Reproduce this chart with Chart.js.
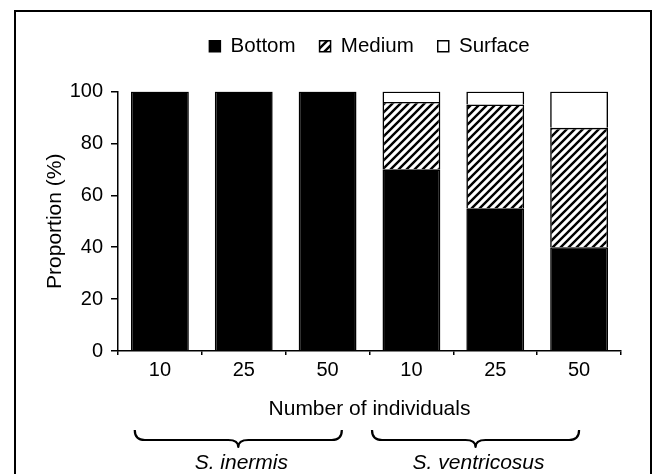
<!DOCTYPE html>
<html>
<head>
<meta charset="utf-8">
<script src="https://cdn.jsdelivr.net/npm/chart.js@4.4.1/dist/chart.umd.min.js"></script>
<style>
    body { margin: 0; background: #fff; }
    canvas { display: block; }
</style>
</head>
<body>
<canvas id="chart-posicao" width="652" height="474"></canvas>
<script>
const categorias = ['10', '25', '50', '10', '25', '50'];
const bottom = [100, 100, 100, 70, 55, 40];
const medium = [0, 0, 0, 26, 40, 46];
const surface = [0, 0, 0, 4, 5, 14];
const especies = ['S. inermis', 'S. ventricosus'];
const yTicks = [0, 20, 40, 60, 80, 100];

Chart.defaults.font.family = '"Liberation Sans", Arial, Helvetica, sans-serif';
Chart.defaults.font.size = 20;
Chart.defaults.color = '#000';

function makeHatch() {
    const s = 8;
    const c = document.createElement('canvas');
    c.width = s;
    c.height = s;
    const ctx = c.getContext('2d');
    ctx.fillStyle = '#fff';
    ctx.fillRect(0, 0, s, s);
    ctx.strokeStyle = '#000';
    ctx.lineWidth = 2.4;
    ctx.beginPath();
    ctx.moveTo(0, s); ctx.lineTo(s, 0);
    ctx.moveTo(-s / 2, s / 2); ctx.lineTo(s / 2, -s / 2);
    ctx.moveTo(s / 2, s * 1.5); ctx.lineTo(s * 1.5, s / 2);
    ctx.stroke();
    return ctx.createPattern(c, 'repeat');
}

// no outline on empty segments
const borda = ctx => (ctx.raw === 0 ? 0 : 1.6);

// legend needs extra room below it, before the plot starts
const legendGap = {
    id: 'legendGap',
    beforeLayout(chart) {
        const lg = chart.legend;
        if (lg && !lg._gapPatched) {
            const fit = lg.fit;
            lg.fit = function () {
                fit.call(this);
                this.height += 25;
            };
            lg._gapPatched = true;
        }
    }
};

// frame around the figure, braces and species names under the axis
const figureExtras = {
    id: 'figureExtras',
    afterDraw(chart, args, opts) {
        const ctx = chart.ctx;
        const x = chart.scales.x;
        ctx.save();
        ctx.strokeStyle = '#000';
        ctx.lineWidth = 2;
        ctx.strokeRect(15, 11, 636, 480);

        ctx.lineWidth = 2.2;
        ctx.lineJoin = 'round';
        opts.spans.forEach((sp, i) => {
            const x1 = x.getPixelForValue(sp[0]);
            const x2 = x.getPixelForValue(sp[1]);
            const xm = (x1 + x2) / 2;
            const y0 = 430, y1 = 440, y2 = 447, r = 10;
            ctx.beginPath();
            ctx.moveTo(x1, y0);
            ctx.quadraticCurveTo(x1, y1, x1 + r, y1);
            ctx.lineTo(xm - r, y1);
            ctx.quadraticCurveTo(xm, y1, xm, y2);
            ctx.quadraticCurveTo(xm, y1, xm + r, y1);
            ctx.lineTo(x2 - r, y1);
            ctx.quadraticCurveTo(x2, y1, x2, y0);
            ctx.stroke();

            ctx.font = 'italic 21px "Liberation Sans", Arial, sans-serif';
            ctx.fillStyle = '#000';
            ctx.textAlign = 'center';
            ctx.textBaseline = 'middle';
            ctx.fillText(especies[i], xm + 3, 463);
        });
        ctx.restore();
    }
};

const hatch = makeHatch();

window.chartPosicao = new Chart(document.getElementById('chart-posicao'), {
    type: 'bar',
    data: {
        labels: categorias,
        datasets: [
            { label: 'Bottom', data: bottom, backgroundColor: '#000', borderColor: '#000', borderWidth: borda },
            { label: 'Medium', data: medium, backgroundColor: hatch, borderColor: '#000', borderWidth: borda },
            { label: 'Surface', data: surface, backgroundColor: '#fff', borderColor: '#000', borderWidth: borda }
        ]
    },
    options: {
        responsive: false,
        animation: false,
        barPercentage: 0.69,
        categoryPercentage: 1,
        layout: { padding: { top: 12, left: 40, right: 31, bottom: 48 } },
        plugins: {
            legend: {
                position: 'top',
                fullSize: false,
                labels: {
                    boxWidth: 11,
                    boxHeight: 11,
                    padding: 24,
                    font: { size: 20.5 },
                    generateLabels(chart) {
                        const items = Chart.defaults.plugins.legend.labels.generateLabels(chart);
                        items.forEach(it => { it.lineWidth = 1.5; it.strokeStyle = '#000'; });
                        return items;
                    }
                }
            },
            tooltip: { enabled: false },
            figureExtras: { spans: [[-0.3, 2.17], [2.53, 5.0]] }
        },
        scales: {
            x: {
                stacked: true,
                afterFit(scale) { scale.height = 75; },
                grid: { display: true, drawOnChartArea: false, drawTicks: true, tickLength: 4, color: '#000', lineWidth: 1.5 },
                border: { display: true, color: '#000', width: 1.5 },
                ticks: { padding: 3, font: { size: 20 } },
                title: { display: true, text: 'Number of individuals', font: { size: 21 }, padding: { top: 0, bottom: 4 } }
            },
            y: {
                stacked: true,
                min: 0,
                max: 100,
                afterFit(scale) { scale.width = 78; },
                afterBuildTicks(scale) { scale.ticks = yTicks.map(v => ({ value: v })); },
                grid: { display: true, drawOnChartArea: false, drawTicks: true, tickLength: 7, color: '#000', lineWidth: 1.5 },
                border: { display: true, color: '#000', width: 1.5 },
                ticks: { padding: 8, font: { size: 20 } },
                title: { display: true, text: 'Proportion (%)', font: { size: 21 }, padding: { top: 3, bottom: 0 } }
            }
        }
    },
    plugins: [legendGap, figureExtras]
});
</script>
</body>
</html>
